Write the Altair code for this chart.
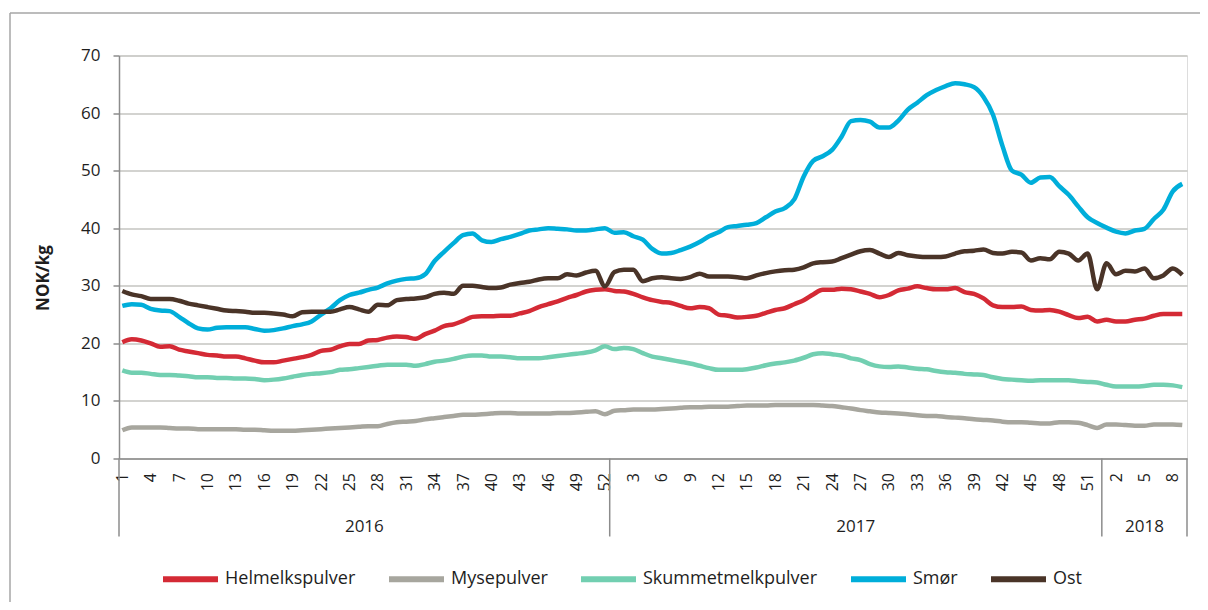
import json
import altair as alt
import pandas as pd

# ---------------- data ----------------
week_labels = list(range(1, 53)) + list(range(1, 53)) + list(range(1, 10))
years = ["2016", "2017", "2018"]
weeks_per_year = [52, 52, 9]

series_names = ["Helmelkspulver", "Mysepulver", "Skummetmelkpulver", "Smør", "Ost"]
series_colors = ["#D42A35", "#A7A69E", "#72CFB1", "#00AEDA", "#4A3428"]

helmelkspulver = [
    20.2, 20.7, 20.5, 20.0, 19.4, 19.5, 18.9, 18.6, 18.3, 18.0,
    17.9, 17.7, 17.7, 17.4, 17.0, 16.7, 16.7, 17.0, 17.3, 17.6,
    18.0, 18.7, 18.9, 19.5, 19.9, 19.9, 20.5, 20.6, 21.0, 21.2,
    21.1, 20.8, 21.6, 22.2, 23.0, 23.3, 23.9, 24.6, 24.7, 24.7,
    24.8, 24.8, 25.2, 25.6, 26.3, 26.8, 27.3, 27.9, 28.4, 29.0,
    29.3, 29.4, 29.1, 29.0, 28.6, 28.0, 27.5, 27.2, 27.0, 26.5,
    26.1, 26.3, 26.1, 25.0, 24.8, 24.5, 24.6, 24.8, 25.3, 25.8,
    26.1, 26.8, 27.5, 28.5, 29.3, 29.3, 29.5, 29.4, 29.0, 28.6,
    28.0, 28.4, 29.2, 29.5, 29.9, 29.6, 29.4, 29.4, 29.6, 28.9,
    28.6, 27.8, 26.6, 26.3, 26.3, 26.4, 25.8, 25.7, 25.8, 25.5,
    24.9, 24.4, 24.6, 23.8, 24.1, 23.8, 23.8, 24.1, 24.3, 24.8,
    25.1, 25.1, 25.1,
]
mysepulver = [
    4.9, 5.4, 5.4, 5.4, 5.4, 5.3, 5.2, 5.2, 5.1, 5.1,
    5.1, 5.1, 5.1, 5.0, 5.0, 4.9, 4.8, 4.8, 4.8, 4.9,
    5.0, 5.1, 5.2, 5.3, 5.4, 5.5, 5.6, 5.6, 6.0, 6.3,
    6.4, 6.5, 6.8, 7.0, 7.2, 7.4, 7.6, 7.6, 7.7, 7.8,
    7.9, 7.9, 7.8, 7.8, 7.8, 7.8, 7.9, 7.9, 8.0, 8.1,
    8.2, 7.7, 8.3, 8.4, 8.5, 8.5, 8.5, 8.6, 8.7, 8.8,
    8.9, 8.9, 9.0, 9.0, 9.0, 9.1, 9.2, 9.2, 9.2, 9.3,
    9.3, 9.3, 9.3, 9.3, 9.2, 9.1, 8.9, 8.7, 8.4, 8.2,
    8.0, 7.9, 7.8, 7.7, 7.5, 7.4, 7.4, 7.2, 7.1, 7.0,
    6.8, 6.7, 6.6, 6.4, 6.3, 6.3, 6.2, 6.1, 6.1, 6.3,
    6.3, 6.2, 5.8, 5.3, 5.9, 5.9, 5.8, 5.7, 5.7, 5.9,
    5.9, 5.9, 5.8,
]
skummetmelkpulver = [
    15.3, 14.9, 14.9, 14.7, 14.5, 14.5, 14.4, 14.3, 14.1, 14.1,
    14.0, 14.0, 13.9, 13.9, 13.8, 13.6, 13.7, 13.9, 14.2, 14.5,
    14.7, 14.8, 15.0, 15.4, 15.5, 15.7, 15.9, 16.1, 16.3, 16.3,
    16.3, 16.1, 16.4, 16.8, 17.0, 17.3, 17.7, 17.9, 17.9, 17.7,
    17.7, 17.6, 17.4, 17.4, 17.4, 17.6, 17.8, 18.0, 18.2, 18.4,
    18.8, 19.5, 19.0, 19.2, 19.0, 18.3, 17.7, 17.4, 17.1, 16.8,
    16.5, 16.1, 15.7, 15.4, 15.4, 15.4, 15.5, 15.8, 16.2, 16.5,
    16.7, 17.0, 17.5, 18.1, 18.3, 18.1, 17.9, 17.4, 17.1, 16.4,
    16.0, 15.9, 16.0, 15.8, 15.6, 15.5, 15.2, 15.0, 14.9, 14.7,
    14.6, 14.5, 14.1, 13.8, 13.7, 13.6, 13.5, 13.6, 13.6, 13.6,
    13.6, 13.4, 13.3, 13.2, 12.8, 12.5, 12.5, 12.5, 12.6, 12.8,
    12.8, 12.7, 12.4,
]
smor = [
    26.5, 26.8, 26.7, 26.0, 25.7, 25.6, 24.6, 23.5, 22.6, 22.4,
    22.7, 22.8, 22.8, 22.8, 22.5, 22.2, 22.3, 22.6, 23.0, 23.3,
    23.8, 25.0, 26.1, 27.5, 28.4, 28.8, 29.3, 29.7, 30.4, 30.9,
    31.2, 31.3, 32.0, 34.3, 35.9, 37.4, 38.8, 39.1, 37.9, 37.6,
    38.1, 38.5, 39.0, 39.6, 39.8, 40.0, 39.9, 39.8, 39.6, 39.6,
    39.8, 40.0, 39.2, 39.3, 38.6, 38.0, 36.4, 35.6, 35.7, 36.2,
    36.8, 37.6, 38.6, 39.3, 40.2, 40.4, 40.6, 40.9, 41.9, 42.9,
    43.5, 45.0, 49.0, 51.7, 52.5, 53.6, 55.9, 58.6, 58.8, 58.5,
    57.5, 57.5, 58.7, 60.6, 61.8, 63.1, 64.0, 64.7, 65.2, 65.0,
    64.5, 62.8, 59.7, 54.3, 50.0, 49.3, 47.9, 48.8, 48.9, 47.3,
    45.8, 43.8, 41.9, 40.9, 40.1, 39.4, 39.1, 39.6, 39.9, 41.6,
    43.2, 46.4, 47.7,
]
ost = [
    29.1, 28.5, 28.2, 27.7, 27.7, 27.7, 27.4, 26.9, 26.6, 26.3,
    26.0, 25.7, 25.6, 25.5, 25.3, 25.3, 25.2, 25.0, 24.7, 25.4,
    25.5, 25.5, 25.5, 25.9, 26.3, 25.9, 25.5, 26.7, 26.6, 27.5,
    27.7, 27.8, 28.0, 28.6, 28.8, 28.6, 30.0, 30.0, 29.8, 29.6,
    29.7, 30.2, 30.5, 30.7, 31.1, 31.3, 31.3, 32.0, 31.8, 32.3,
    32.6, 29.9, 32.4, 32.8, 32.8, 30.8, 31.3, 31.5, 31.3, 31.2,
    31.5, 32.1, 31.6, 31.6, 31.6, 31.5, 31.3, 31.8, 32.2, 32.5,
    32.7, 32.8, 33.2, 33.9, 34.1, 34.2, 34.8, 35.4, 36.0, 36.2,
    35.6, 35.0, 35.7, 35.3, 35.1, 35.0, 35.0, 35.1, 35.6, 36.0,
    36.1, 36.3, 35.7, 35.6, 35.9, 35.8, 34.4, 34.8, 34.6, 35.9,
    35.6, 34.4, 35.6, 29.4, 33.9, 32.0, 32.6, 32.5, 33.0, 31.3,
    31.8, 33.0, 31.9,
]

y_ticks = [0, 10, 20, 30, 40, 50, 60, 70]

# ---------------- tables ----------------
all_series = [helmelkspulver, mysepulver, skummetmelkpulver, smor, ost]
rows = []
for name, vals in zip(series_names, all_series):
    for i, v in enumerate(vals):
        rows.append({"idx": i, "value": v, "series": name})
df = pd.DataFrame(rows)

X_MIN, X_MAX = -0.35, len(week_labels) - 0.5
bounds = [X_MIN]
acc = 0
for n in weeks_per_year:
    acc += n
    bounds.append(acc - 0.5)
bounds[-1] = X_MAX
sep_df = pd.DataFrame({"pos": bounds})
year_df = pd.DataFrame({
    "year": years,
    "mid": [(bounds[k] + bounds[k + 1]) / 2 for k in range(len(years))],
})

FONT = "Open Sans"
TXT = "#1E1E1E"
W, H = 1068, 403

x_scale = alt.Scale(domain=[X_MIN, X_MAX], nice=False, zero=False)
label_expr = json.dumps(week_labels) + "[datum.value]"
x_axis = alt.Axis(values=list(range(0, len(week_labels), 3)), labelExpr=label_expr,
                  labelAngle=270, labelFontSize=16, labelFont=FONT, labelColor=TXT,
                  labelPadding=14, labelOverlap=False, labelSeparation=0,
                  labelBound=False, labelFlush=False,
                  ticks=False, grid=False,
                  domainColor="#8C8C8C", domainWidth=1.5, title=None)

lines = alt.Chart(df).mark_line(strokeWidth=4.5, interpolate="monotone").encode(
    x=alt.X("idx:Q", scale=x_scale, axis=x_axis),
    y=alt.Y("value:Q", scale=alt.Scale(domain=[0, 70], nice=False),
            axis=alt.Axis(values=y_ticks, labelFontSize=17, labelFont=FONT, labelColor=TXT,
                          labelPadding=13, tickSize=6, tickColor="#8C8C8C", tickWidth=1.5,
                          domainColor="#8C8C8C", domainWidth=1.5,
                          grid=True, gridColor="#C4C4C0", gridWidth=1.5,
                          title="NOK/kg", titleFont=FONT, titleFontSize=17,
                          titleFontWeight="bold", titleColor=TXT, titleAngle=270,
                          titleX=-76, titleY=222, titleAlign="center",
                          titleBaseline="middle")),
    color=alt.Color("series:N",
                    scale=alt.Scale(domain=series_names, range=series_colors),
                    sort=series_names,
                    legend=alt.Legend(orient="none", legendX=41, legendY=493,
                                      direction="horizontal", title=None,
                                      symbolType="stroke", symbolSize=3025,
                                      symbolStrokeWidth=6, labelFontSize=18,
                                      labelFont=FONT, labelColor=TXT, labelLimit=0,
                                      columnPadding=21, labelOffset=4)),
    order=alt.Order("idx:Q"),
)

seps = alt.Chart(sep_df).mark_rule(color="#8C8C8C", strokeWidth=1.5).encode(
    x=alt.X("pos:Q", scale=x_scale, axis=x_axis),
    y=alt.value(H),
    y2=alt.value(H + 78),
)

year_text = alt.Chart(year_df).mark_text(fontSize=17, font=FONT, color=TXT,
                                         baseline="middle").encode(
    x=alt.X("mid:Q", scale=x_scale, axis=x_axis),
    y=alt.value(H + 68),
    text="year:N",
)

# outer frame: only its top and left edges fall inside the picture
frame_top = alt.Chart(pd.DataFrame({"a": [0]})).mark_rule(
    color="#A6A6A6", strokeWidth=1.5
).encode(
    x=alt.value(-109), x2=alt.value(W + 300), y=alt.value(-42.5),
)
frame_left = alt.Chart(pd.DataFrame({"a": [0]})).mark_rule(
    color="#A6A6A6", strokeWidth=1.5
).encode(
    x=alt.value(-109), y=alt.value(-42.5), y2=alt.value(H + 300),
)

chart = alt.layer(lines, frame_top, frame_left, seps, year_text).properties(
    width=W, height=H,
    autosize=alt.AutoSizeParams(type="none"),
    padding={"left": 111, "top": 47.5, "right": 13, "bottom": 143.5},
).configure_view(stroke=None).configure(background="white")

chart.save("out.html", embed_options={"renderer": "svg", "actions": False})
